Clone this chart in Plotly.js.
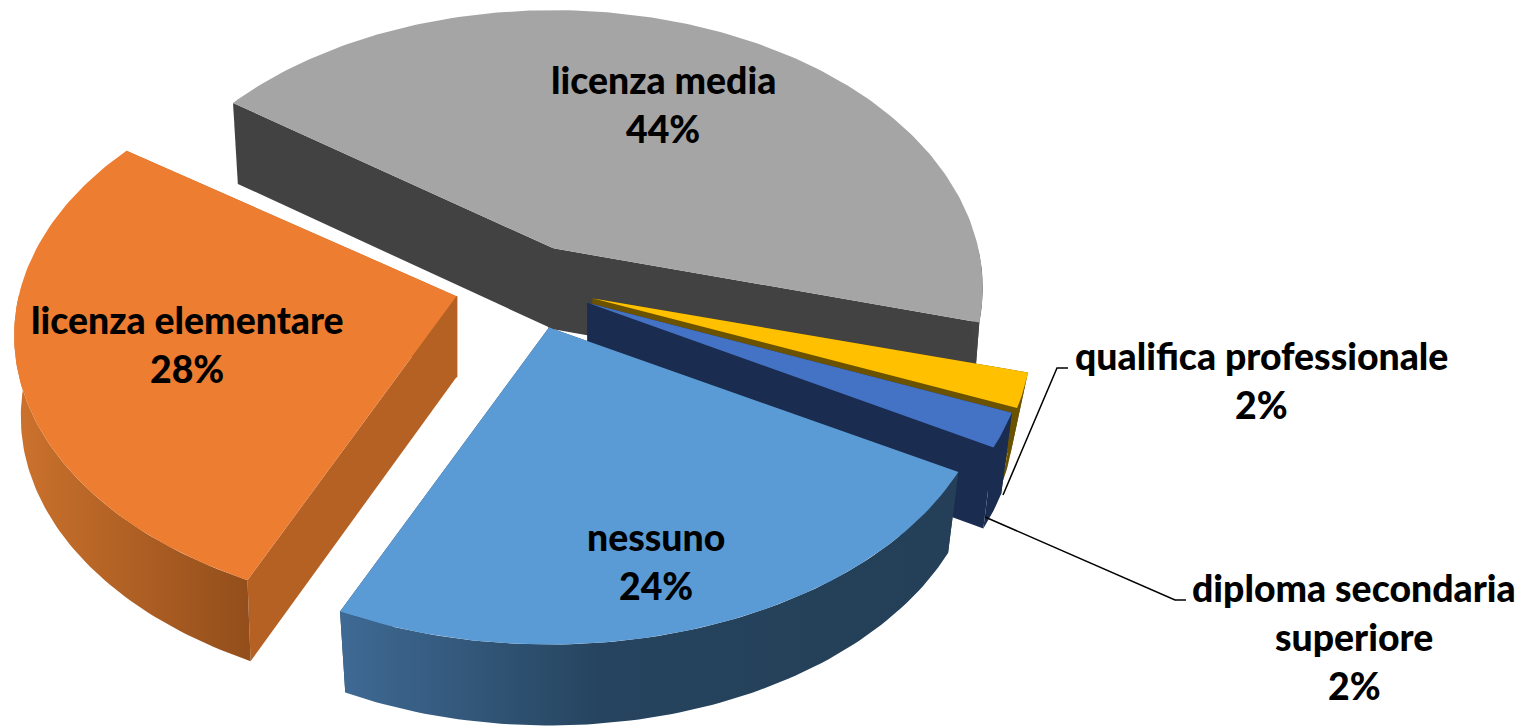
<!DOCTYPE html>
<html><head><meta charset="utf-8">
<script src="https://cdn.plot.ly/plotly-3.0.1.min.js"></script>
<style>html,body{margin:0;padding:0;background:#fff}#c{width:1524px;height:727px}</style>
</head><body><div id="c"></div>
<script>
// Data (in pie order, clockwise)
const categories = ["nessuno", "licenza elementare", "licenza media", "qualifica professionale", "diploma secondaria superiore"];
const labelLines = [["nessuno"], ["licenza elementare"], ["licenza media"], ["qualifica professionale"], ["diploma secondaria", "superiore"]];
const values = [23.6, 28.0, 44.4, 2.0, 2.0];

// Style
const topColors  = ["#5B9BD5", "#ED7D31", "#A5A5A5", "#FFC000", "#4472C4"];
const faceColors = ["#264057", "#B56124", "#424242", "#6B5200", "#1A2C50"];
const rimScales  = [
  [[0,"#3F6A94"],[0.42,"#26445F"],[1,"#243F57"]],
  [[0,"#CC722D"],[1,"#924E1B"]],
  [[0,"#444444"],[1,"#444444"]],
  [[0,"#6B5200"],[1,"#6B5200"]],
  [[0,"#1A2C50"],[1,"#1A2C50"]]
];
const explode = [0.168, 0.172, 0.145, 0.165, 0.16];
const widthScale = [1.03, 1.03, 1.0, 1.02, 1.02];
const shrinkScale = [0.975, 0.985, 0.985, 0.96, 0.975];
const drawOrder = [2, 1, 3, 4, 0];
const labelAnchors = [[656,536],[187,319],[663,79],[1261,355],[1354,587]];
const lineStep = 49;

// Projection of the tilted pie
const geo = {cx:527, cy:284, a:425, b:272, k:0.142, depth:81, startDeg:29.6};
const rad = d => d*Math.PI/180;
const total = values.reduce((p,c)=>p+c,0);
let cum = geo.startDeg;
const slices = values.map((v,i)=>{
  const t0 = cum, t1 = cum + v/total*360; cum = t1;
  const mid = rad((t0+t1)/2);
  return {i,t0,t1,
    ax: geo.cx + geo.a*explode[i]*Math.cos(mid),
    ay: geo.cy + geo.b*explode[i]*Math.sin(mid)};
});
function rimPoint(s,deg){
  const u=Math.cos(rad(deg)), w=Math.sin(rad(deg)), p=1/(1-geo.k*w);
  return [s.ax+geo.a*widthScale[s.i]*u*p, s.ay+geo.b*w*p];
}
const lower = (s,p)=>[s.ax+(p[0]-s.ax)*shrinkScale[s.i], p[1]+geo.depth];
function arcDegrees(s){
  const out=[]; const n=Math.max(2,Math.ceil(s.t1-s.t0));
  for(let j=0;j<=n;j++) out.push(s.t0+(s.t1-s.t0)*j/n);
  return out;
}
function poly(pts,extra){
  return Object.assign({type:"scatter",mode:"lines",x:pts.map(p=>p[0]),y:pts.map(p=>p[1]),
    fill:"toself",line:{width:0},hoverinfo:"skip",showlegend:false},extra);
}
const traces=[];
drawOrder.forEach(i=>{
  const s=slices[i], D=arcDegrees(s), A=D.map(d=>rimPoint(s,d)), apex=[s.ax,s.ay], apexLow=lower(s,apex);
  const first=A[0], last=A[A.length-1];
  // radial faces
  traces.push(poly([apex,first,lower(s,first),apexLow,apex],{fillcolor:faceColors[i]}));
  traces.push(poly([apex,last,lower(s,last),apexLow,apex],{fillcolor:faceColors[i]}));
  // cover the seam where the two faces meet
  traces.push({type:"scatter",mode:"lines",x:[apex[0],apexLow[0]],y:[apex[1],apexLow[1]],
    line:{color:faceColors[i],width:2},hoverinfo:"skip",showlegend:false});
  // outer wall: only the part that faces the viewer
  const F=D.filter(d=>Math.sin(rad(d))>=-0.01).map(d=>rimPoint(s,d));
  if(F.length>1){
    const wall=F.concat(F.slice().reverse().map(p=>lower(s,p)));
    wall.push(F[0]);
    traces.push(poly(wall,{fillgradient:{type:"horizontal",colorscale:rimScales[i]}}));
  }
  // top
  const top=[apex].concat(A,[apex]);
  traces.push(poly(top,{fillcolor:topColors[i]}));
});
// Leader lines
const leaderX=[[1003,1057,1068],[985,1175,1186]], leaderY=[[495,368,368],[517,600,600]];
leaderX.forEach((lx,j)=>traces.push({type:"scatter",mode:"lines",x:lx,y:leaderY[j],
  line:{color:"#000",width:1.5},hoverinfo:"skip",showlegend:false}));

const font={family:"Lato, 'Open Sans', sans-serif",size:37.4,color:"#000",weight:900};
const annotations=[];
labelLines.forEach((lines,i)=>{
  const all=lines.concat([Math.round(values[i]/total*100)+"%"]);
  all.forEach((t,j)=>annotations.push({xref:"x",yref:"y",x:labelAnchors[i][0],y:labelAnchors[i][1]+j*lineStep,
    text:t,showarrow:false,xanchor:"center",yanchor:"middle",font}));
});
const layout={width:1524,height:727,margin:{l:0,r:0,t:0,b:0},paper_bgcolor:"#fff",plot_bgcolor:"#fff",
  xaxis:{range:[0,1524],visible:false,fixedrange:true},
  yaxis:{range:[727,0],visible:false,fixedrange:true},
  showlegend:false,annotations};
Plotly.newPlot("c",traces,layout,{displayModeBar:false,staticPlot:true});
</script></body></html>
